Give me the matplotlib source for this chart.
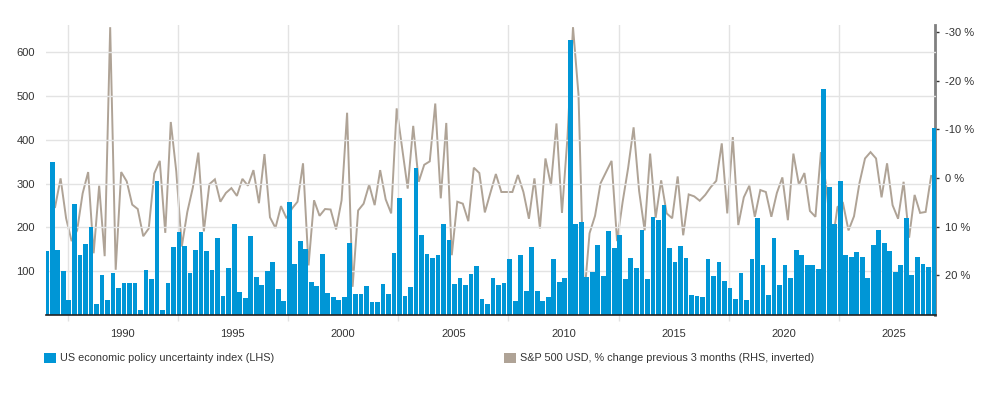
import numpy as np
import matplotlib
matplotlib.use("Agg")
import matplotlib.pyplot as plt
from matplotlib.patches import Patch

plt.rcParams['font.family'] = ['Liberation Sans', 'DejaVu Sans']

# US economic policy uncertainty index (LHS), quarterly
epu = [145, 350, 149, 100, 34, 253, 137, 162, 200, 24, 91, 35, 97, 61, 74, 74, 72, 12, 102, 82,
       305, 11, 72, 156, 190, 158, 97, 148, 190, 145, 102, 175, 44, 107, 208, 52, 39, 180, 87, 69,
       100, 120, 59, 33, 258, 117, 169, 150, 76, 66, 139, 50, 42, 34, 42, 165, 47, 47, 66, 29,
       29, 70, 47, 141, 266, 43, 63, 336, 182, 139, 130, 136, 208, 171, 70, 84, 69, 94, 111, 37,
       25, 84, 69, 72, 128, 33, 137, 55, 156, 55, 31, 40, 127, 75, 85, 627, 207, 213, 86, 98,
       159, 90, 191, 153, 182, 83, 130, 107, 195, 83, 223, 217, 251, 153, 122, 157, 129, 46, 43, 42,
       127, 89, 122, 78, 61, 37, 96, 35, 128, 221, 113, 46, 175, 69, 114, 85, 149, 136, 115, 113,
       106, 517, 293, 208, 306, 137, 133, 143, 132, 84, 159, 194, 164, 146, 99, 115, 221, 91, 132, 117,
       109, 428]

# S&P 500 USD, % change previous 3 months (RHS, inverted)
spx = [6.0, 0.1, 8.3, 13.0, 10.8, 3.2, -1.2, 15.5, 1.6, 16.1, -31.0, 18.9, -1.2, 0.7, 5.5, 6.4, 12.0, 10.4, -0.9, -3.5,
       11.3, -11.5, -1.3, 14.1, 7.0, 2.0, -5.2, 11.0, 1.3, 0.3, 4.9, 3.1, 2.1, 3.7, 0.2, 1.6, -1.6, 5.2, -4.9, 8.1,
       10.3, 5.8, 8.3, 6.3, 4.9, -3.0, 18.0, 4.6, 7.8, 6.4, 6.5, 10.6, 4.6, -13.4, 22.4, 6.7, 5.3, 1.4, 5.6, -1.6,
       4.4, 7.3, -14.3, -6.1, 2.2, -10.7, 0.8, -2.7, -3.4, -15.3, 4.2, -11.3, 15.9, 4.9, 5.3, 8.9, -2.1, -1.0, 7.1, 3.1,
       -0.8, 2.9, 2.9, 2.9, -0.6, 2.9, 8.4, 0.1, 10.4, -4.0, 1.5, -11.2, 7.2, -8.4, -31.0, -17.1, 25.0, 11.4, 7.8, 1.1,
       -1.2, -3.5, 13.0, 5.0, -2.0, -10.4, 2.7, 10.8, -5.0, 8.2, 0.5, 7.3, 8.3, -0.3, 11.8, 3.4, 3.8, 4.7, 3.5, 1.9,
       0.6, -7.1, 7.3, -8.4, 9.7, 4.0, 1.6, 8.0, 2.5, 2.9, 8.0, 3.1, -0.1, 8.7, -5.0, 1.4, -1.0, 6.8, 8.0, -5.3,
       2.0, 14.0, 6.0, 5.2, 10.8, 7.9, 1.0, -4.0, -5.3, -4.0, 4.0, -3.0, 5.6, 8.4, 0.8, 12.3, 3.5, 7.2, 7.0, -0.4]

year_labels = [1990, 1995, 2000, 2005, 2010, 2015, 2020, 2025]
left_ticks = [100, 200, 300, 400, 500, 600]
right_ticks = [-30, -20, -10, 0, 10, 20]

label_epu = "US economic policy uncertainty index (LHS)"
label_spx = "S&P 500 USD, % change previous 3 months (RHS, inverted)"

blue = "#0096d6"
taupe = "#afa396"
grid_c = "#e3e3e3"
txt_c = "#333333"

t_bar = 1986.557 + 0.25 * np.arange(len(epu))
t_line = t_bar[1:1 + len(spx)] + 0.125

W, H = 982, 395
fig = plt.figure(figsize=(W / 100, H / 100), dpi=100)
ax = fig.add_axes([46 / W, 1 - 315 / H, (935.5 - 46) / W, (315 - 25) / H])
ax2 = ax.twinx()

# line drawn behind the bars
ax.set_zorder(ax2.get_zorder() + 1)
ax.patch.set_visible(False)

ax2.plot(t_line, spx, color=taupe, lw=1.4, solid_joinstyle='miter', zorder=2)
ax.bar(t_bar, epu, width=0.215, color=blue, edgecolor='none', zorder=3)

ax.set_xlim(1986.52, 2026.88)
ax.set_ylim(0, 662)
ax2.set_ylim(28.2, -31.45)

ax.set_yticks(left_ticks)
ax.set_yticklabels([str(v) for v in left_ticks], fontsize=8, color=txt_c)
ax.tick_params(axis='y', length=0, pad=8)
ax.grid(axis='y', color=grid_c, lw=1, zorder=0)

ax.set_xticks(year_labels)
ax.set_xticklabels([str(v) for v in year_labels], fontsize=8, color=txt_c)
minor = np.arange(1987.5, 2026, 5)
ax.set_xticks(minor, minor=True)
ax.tick_params(axis='x', which='major', length=0, pad=10)
ax.tick_params(axis='x', which='minor', length=4, color=grid_c, width=1)
ax.grid(axis='x', which='minor', color=grid_c, lw=1, zorder=0)
ax.grid(axis='x', which='major', visible=False)
ax.set_axisbelow(True)

for s in ['top', 'left', 'right']:
    ax.spines[s].set_visible(False)
ax.spines['bottom'].set_color('#222222')
ax.spines['bottom'].set_linewidth(1.2)
ax.spines['bottom'].set_zorder(5)

for s in ['top', 'left', 'bottom']:
    ax2.spines[s].set_visible(False)
ax2.spines['right'].set_color('#808080')
ax2.spines['right'].set_linewidth(2)
ax2.set_yticks(right_ticks)
ax2.set_yticklabels([f"{v} %" for v in right_ticks], fontsize=8, color=txt_c)
ax2.tick_params(axis='y', length=3, width=1, color='#333333', pad=4)

# legend
h1 = Patch(facecolor=blue, edgecolor='none')
h2 = Patch(facecolor=taupe, edgecolor='none')
kw = dict(loc='center left', frameon=False, fontsize=7.8, handlelength=1.1, handleheight=1.1,
          handletextpad=0.4, borderaxespad=0, borderpad=0, labelcolor=txt_c)
fig.legend([h1], [label_epu], bbox_to_anchor=(44 / W, 1 - 358 / H), **kw)
fig.legend([h2], [label_spx], bbox_to_anchor=(504 / W, 1 - 358 / H), **kw)

fig.savefig("out.png", dpi=100)
